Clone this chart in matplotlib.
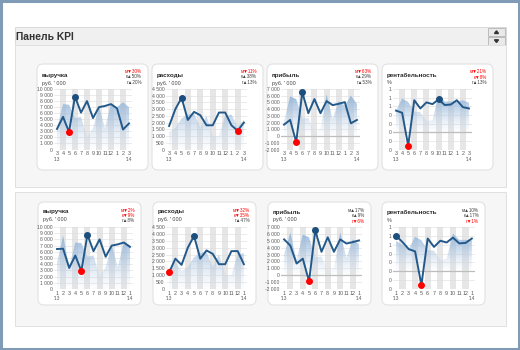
import numpy as np
import matplotlib
matplotlib.use('Agg')
import matplotlib.pyplot as plt
from matplotlib.patches import Rectangle, FancyBboxPatch, Polygon
from matplotlib.colors import LinearSegmentedColormap

plt.rcParams['font.family'] = ['Liberation Sans', 'DejaVu Sans']

# monthly data, Jan 2013 .. Mar 2014
months = ['1', '2', '3', '4', '5', '6', '7', '8', '9', '10', '11', '12', '1', '2', '3']

revenue = [6450, 6500, 3400, 5400, 2900, 8750, 6100, 8000, 5200, 7000, 7200, 7500, 6800, 3300, 4300]
revenue_area = [4200, 8600, 3500, 7500, 7400, 5200, 5400, 2000, 3500, 7100, 3500, 7600, 7000, 7800, 7000]

costs = [1200, 2200, 1750, 3000, 3850, 2200, 2800, 2550, 1800, 1800, 2750, 2750, 1800, 1400, 2000]
costs_area = [1100, 2000, 1300, 1600, 2300, 2600, 2700, 1600, 2500, 1000, 1000, 2500, 2600, 1700, 2200]

profit = [5200, 4300, 1700, 2400, -900, 6500, 3400, 5500, 3400, 5200, 4600, 4800, 5050, 1900, 2400]
profit_area = [3000, 6200, 2200, 5900, 5500, 2600, 2700, 600, 1000, 6200, 2500, 5200, 4500, 6000, 4800]

margin = [0.80, 0.66, 0.50, 0.45, -0.31, 0.74, 0.55, 0.69, 0.65, 0.76, 0.63, 0.64, 0.74, 0.58, 0.55]
margin_area = [0.68, 0.60, 0.50, 0.78, 0.70, 0.48, 0.46, 0.25, 0.28, 0.85, 0.71, 0.71, 0.70, 0.74, 0.68]

titles = ['выручка', 'расходы', 'прибыль', 'рентабельность']
units = ['руб. \' 000', 'руб. \' 000', 'руб. \' 000', '%']

ind_top = [['м▼30%', 'к▲50%', 'г▲20%'],
           ['м▼11%', 'к▲38%', 'г▲13%'],
           ['м▼63%', 'к▲29%', 'г▲53%'],
           ['м▼21%', 'к▼8%', 'г▲13%']]
ind_bottom = [['м▼2%', 'к▼9%', 'г▲8%'],
              ['м▼32%', 'к▼35%', 'г▲47%'],
              ['м▲17%', 'к▲9%', 'г▼6%'],
              ['м▲10%', 'к▲17%', 'г▼1%']]

W, H = 520, 350
fig = plt.figure(figsize=(5.2, 3.5), dpi=100)
bg = fig.add_axes([0, 0, 1, 1])
bg.set_xlim(0, W)
bg.set_ylim(H, 0)
bg.axis('off')

# gradient fill: transparent at the base, blue at the top
cmap = LinearSegmentedColormap.from_list(
    'kpi', [(0.80, 0.86, 0.93, 0.05), (0.62, 0.74, 0.87, 0.55), (0.50, 0.66, 0.83, 0.95)])
LINE = '#23598a'


def fmt_k(v):
    s = f"{abs(v):,.0f}".replace(',', ' ')
    return ('-' if v < 0 else '') + s


def fmt_pct(v):
    return str(abs(int(round(v))))


# frame and panel
bg.add_patch(Rectangle((1.3, 1.3), W - 2.6, H - 2.6, fill=False, ec='#7f9bb6', lw=2.2))
bg.add_patch(Rectangle((15, 27), 491, 18, fc='#f0f0f0', ec='#d9d9d9', lw=0.7))
bg.text(16.5, 36.5, 'Панель KPI', weight='bold', size=7.4, va='center', color='#333333')
for by in (28, 37):
    bg.add_patch(Rectangle((488, by), 17, 8, fc='#e9e9e9', ec='#b5b5b5', lw=0.6))
bg.add_patch(Polygon([(494.5, 33.5), (498.5, 33.5), (496.5, 30.8)], color='#333333'))
bg.add_patch(Polygon([(494.5, 39.8), (498.5, 39.8), (496.5, 42.5)], color='#333333'))
bg.add_patch(Rectangle((15, 45), 491, 142, fc='#f6f6f6', ec='#e0e0e0', lw=0.7))
bg.add_patch(Rectangle((15, 192), 491, 134, fc='#f6f6f6', ec='#e0e0e0', lw=0.7))


def draw_chart(px, py, line, area, ylim, step, labels, fmt):
    ax = fig.add_axes([px[0] / W, 1 - py[1] / H, (px[1] - px[0]) / W, (py[1] - py[0]) / H])
    line = np.array(line)
    n = len(line)
    x = np.arange(n)
    for i in range(1, n, 2):
        ax.axvspan(i - 0.5, i + 0.5, color='#e6e6e6', lw=0, zorder=0)
    base = max(ylim[0], 0)
    poly = ax.fill_between(x, area, base, color='none', lw=0)
    grad = np.linspace(0, 1, 256).reshape(-1, 1)
    img = ax.imshow(grad, extent=[-0.5, n - 0.5, base, ylim[1]], origin='lower',
                    aspect='auto', cmap=cmap, zorder=1)
    img.set_clip_path(poly.get_paths()[0], transform=ax.transData)
    if ylim[0] < 0:
        ax.axhline(0, color='#bdbdbd', lw=0.9, zorder=1.5)
    ax.plot(x, line, color=LINE, lw=1.4, zorder=3)
    imax, imin = np.argmax(line), np.argmin(line)
    ax.plot(x[imax], line[imax], 'o', ms=4, color='#1d4f7e', zorder=4)
    ax.plot(x[imin], line[imin], 'o', ms=4, color='#ff0000', zorder=4)
    ticks = np.arange(ylim[0], ylim[1] + step / 2, step)
    ax.set_yticks(ticks)
    ax.set_yticklabels([fmt(t) for t in ticks])
    ax.set_xticks(x)
    ax.set_xticklabels(labels)
    ax.set_xlim(-0.5, n - 0.5)
    ax.set_ylim(*ylim)
    ax.grid(axis='y', color='#dcdcdc', lw=0.4)
    ax.set_axisbelow(True)
    ax.tick_params(axis='y', length=0, labelsize=3.6, colors='#595959', pad=1.0)
    ax.tick_params(axis='x', length=0, labelsize=3.9, colors='#595959', pad=1.3)
    for s in ax.spines.values():
        s.set_visible(False)
    ax.set_facecolor('none')
    return x


specs = [
    (revenue, revenue_area, (0, 10000), 1000, fmt_k),
    (costs, costs_area, (0, 4500), 500, fmt_k),
    (profit, profit_area, (-2000, 7000), 1000, fmt_k),
    (margin, margin_area, (-0.4, 1.0), 0.2, fmt_pct),
]

rows = [
    dict(cards=[37, 152, 267, 382], cw=111, cy=64, ch=106, sl=slice(2, 15),
         plots=[(54, 132), (166, 247), (281, 360), (393, 472)], py=(89, 149.5),
         ty=75, iy=(71, 77, 83), yy=159.5, ind=ind_top),
    dict(cards=[38, 153, 268, 382], cw=103, cy=202, ch=103, sl=slice(0, 13),
         plots=[(54, 133), (166, 247), (281, 362), (393, 475)], py=(227, 289),
         ty=212, iy=(210, 215.7, 221), yy=299, ind=ind_bottom),
]

for row in rows:
    for k in range(4):
        cx = row['cards'][k]
        bg.add_patch(FancyBboxPatch((cx, row['cy']), row['cw'], row['ch'],
                                    boxstyle='round,pad=0,rounding_size=6',
                                    fc='white', ec='#e2e2e2', lw=0.8))
        bg.text(cx + 5, row['ty'], titles[k], weight='bold', size=4.5,
                va='center', color='#262626')
        bg.text(cx + 5, row['ty'] + 8, units[k], size=3.9, va='center', color='#404040')
        for j, s in enumerate(row['ind'][k]):
            bg.text(cx + row['cw'] - 6, row['iy'][j], s, size=3.3, ha='right', va='center',
                    color='#ff0000' if '▼' in s else '#404040')
        line, area, ylim, step, fmt = specs[k]
        sl = row['sl']
        px = row['plots'][k]
        draw_chart(px, row['py'], line[sl], area[sl], ylim, step, months[sl], fmt)
        cat = (px[1] - px[0]) / 13
        bg.text(px[0] + cat / 2, row['yy'], "'13", size=3.4, ha='center', va='center', color='#595959')
        bg.text(px[1] - cat / 2, row['yy'], "'14", size=3.4, ha='center', va='center', color='#595959')

fig.savefig('out.png', dpi=100)
